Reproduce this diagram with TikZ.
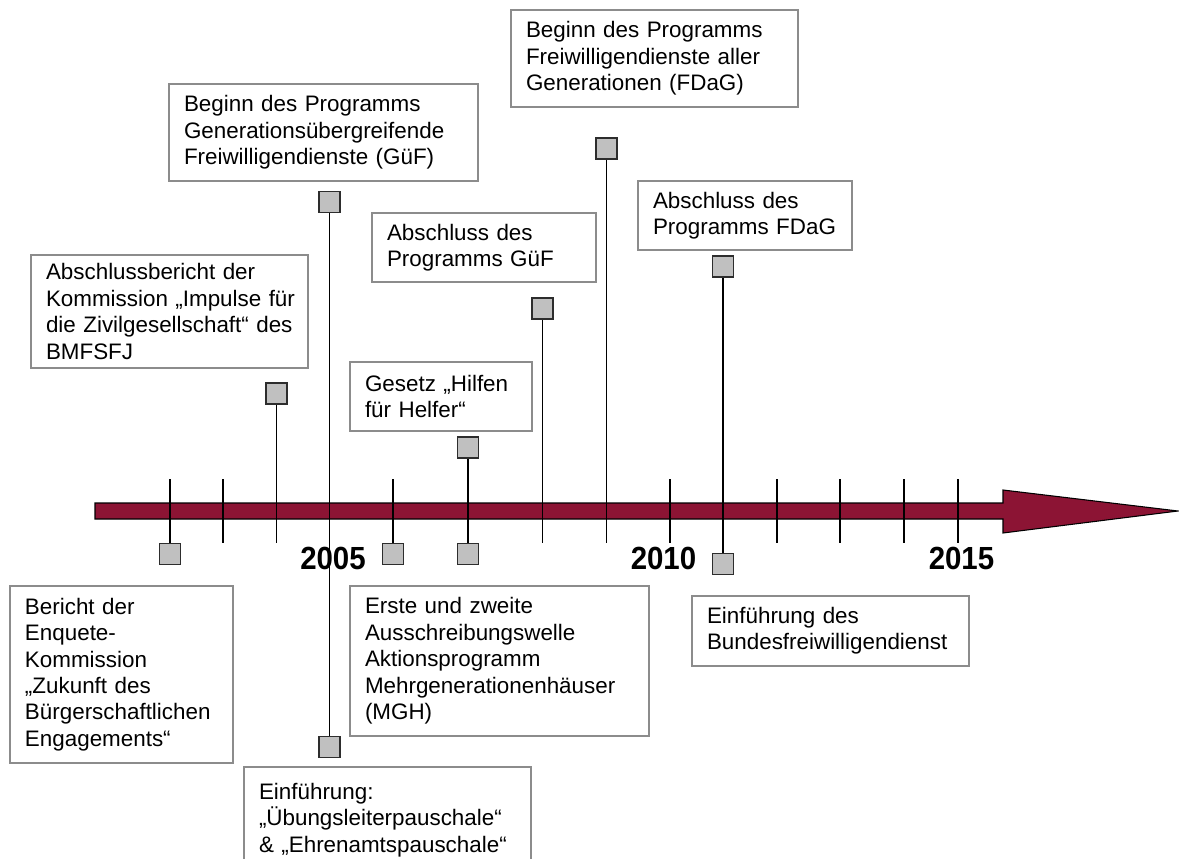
\documentclass[tikz,border=0pt]{standalone}
\usepackage{fontspec}
\setmainfont{Liberation Sans}
\definecolor{framegray}{RGB}{140,140,140}
\definecolor{markerfill}{RGB}{192,192,192}
\definecolor{markerdark}{RGB}{45,45,45}
\definecolor{timered}{RGB}{140,20,52}
\newcommand\evline[1]{\mbox{#1}}
\begin{document}
\begin{tikzpicture}[x=0.75pt,y=-0.75pt,
  event/.style={draw=framegray, line width=0.9pt, fill=white, inner xsep=11.25pt,
    inner ysep=0pt, align=left, font=\fontsize{16.8pt}{19.8pt}\selectfont},
  marker/.style={draw=markerdark, fill=markerfill, line width=1.1pt,
    minimum size=15.6pt, inner sep=0pt, outer sep=0pt},
  stem/.style={line width=0.9pt, black},
  year/.style={font=\fontsize{24pt}{24pt}\selectfont\bfseries, inner sep=0pt}
]
\useasboundingbox (0,0) rectangle (1179,859);
\clip (0,0) rectangle (1179,859);

% time axis
\draw[fill=timered, line width=0.8pt, line join=miter]
  (95,503) -- (1003,503) -- (1003,490) -- (1178,511) -- (1003,533)
  -- (1003,519) -- (95,519) -- cycle;

% markers above and below the axis
\node[marker] (sA) at (276.5,393.5) {};
\node[marker] (sB) at (329.5,202) {};
\node[marker] (sC) at (542.5,308.5) {};
\node[marker] (sD) at (468,447.5) {};
\node[marker] (sE) at (606.5,148.5) {};
\node[marker] (sF) at (723,266.5) {};
\node[marker] (sG) at (170,554) {};
\node[marker] (sH) at (393,554) {};
\node[marker] (sK) at (468,554) {};
\node[marker] (sI) at (329.5,747) {};
\node[marker] (sJ) at (723,564) {};

% tick ends
\coordinate (tA) at (276.5,543);
\coordinate (tC) at (542.5,543);
\coordinate (tE) at (606.5,543);
\coordinate (tG) at (170,479);
\coordinate (tH) at (393,479);
\foreach \x [count=\i] in {223,670,777,840,904,958} {
  \coordinate (up\i) at (\x,479);
  \coordinate (dn\i) at (\x,543);
}

% stems and ticks
\draw[stem] (sA) -- (tA);
\draw[stem] (sB) -- (sI);
\draw[stem] (sC) -- (tC);
\draw[stem] (sD) -- (sK);
\draw[stem] (sE) -- (tE);
\draw[stem] (sF) -- (sJ);
\draw[stem] (tG) -- (sG);
\draw[stem] (tH) -- (sH);
\foreach \i in {1,...,6} { \draw[stem] (up\i) -- (dn\i); }

% redraw markers on top of the stems
\foreach \m in {sA,sB,sC,sD,sE,sF,sG,sH,sK,sI,sJ} {
  \node[marker] at (\m) {};
}

% year labels
\node[year] (y2005) at (333,558.5) {\scalebox{0.92}[1]{2005}};
\node[year] (y2010) at (663.5,558) {\scalebox{0.92}[1]{2010}};
\node[year] (y2015) at (961.5,558) {\scalebox{0.92}[1]{2015}};

% event boxes
\node[event, minimum height=84.75pt, text width=185.25pt] (bA) at (169.5,311.5)
  {\evline{Abschlussbericht der}\\\evline{Kommission „Impulse für}\\\evline{die Zivilgesellschaft“ des}\\\evline{BMFSFJ}};
\node[event, minimum height=72.75pt, text width=209.25pt] (bB) at (323.5,132.5)
  {\evline{Beginn des Programms}\\\evline{Generationsübergreifende}\\\evline{Freiwilligendienste (GüF)}};
\node[event, minimum height=51.75pt, text width=145.5pt] (bC) at (484,247.5)
  {\evline{Abschluss des}\\\evline{Programms GüF}};
\node[event, minimum height=51.75pt, text width=114pt] (bD) at (441,396.5)
  {\evline{Gesetz „Hilfen}\\\evline{für Helfer“}};
\node[event, minimum height=72.75pt, text width=192.75pt] (bE) at (654.5,58.5)
  {\evline{Beginn des Programms}\\\evline{Freiwilligendienste aller}\\\evline{Generationen (FDaG)}};
\node[event, minimum height=51.75pt, text width=138pt] (bF) at (745,215.5)
  {\evline{Abschluss des}\\\evline{Programms FDaG}};
\node[event, minimum height=132.75pt, text width=144.75pt] (bG) at (121.5,674.5)
  {\evline{Bericht der}\\\evline{Enquete-}\\\evline{Kommission}\\\evline{„Zukunft des}\\\evline{Bürgerschaftlichen}\\\evline{Engagements“}};
\node[event, minimum height=112.5pt, text width=201.75pt] (bH) at (499.5,661)
  {\evline{Erste und zweite}\\\evline{Ausschreibungswelle}\\\evline{Aktionsprogramm}\\\evline{Mehrgenerationenhäuser}\\\evline{(MGH)}};
\node[event, minimum height=79.5pt, text width=192.75pt] (bI) at (387.5,820)
  {\evline{Einführung:}\\\evline{„Übungsleiterpauschale“}\\\evline{\& „Ehrenamtspauschale“}};
\node[event, minimum height=52.5pt, text width=185.25pt] (bJ) at (830.5,631)
  {\evline{Einführung des}\\\evline{Bundesfreiwilligendienst}};
\end{tikzpicture}
\end{document}
